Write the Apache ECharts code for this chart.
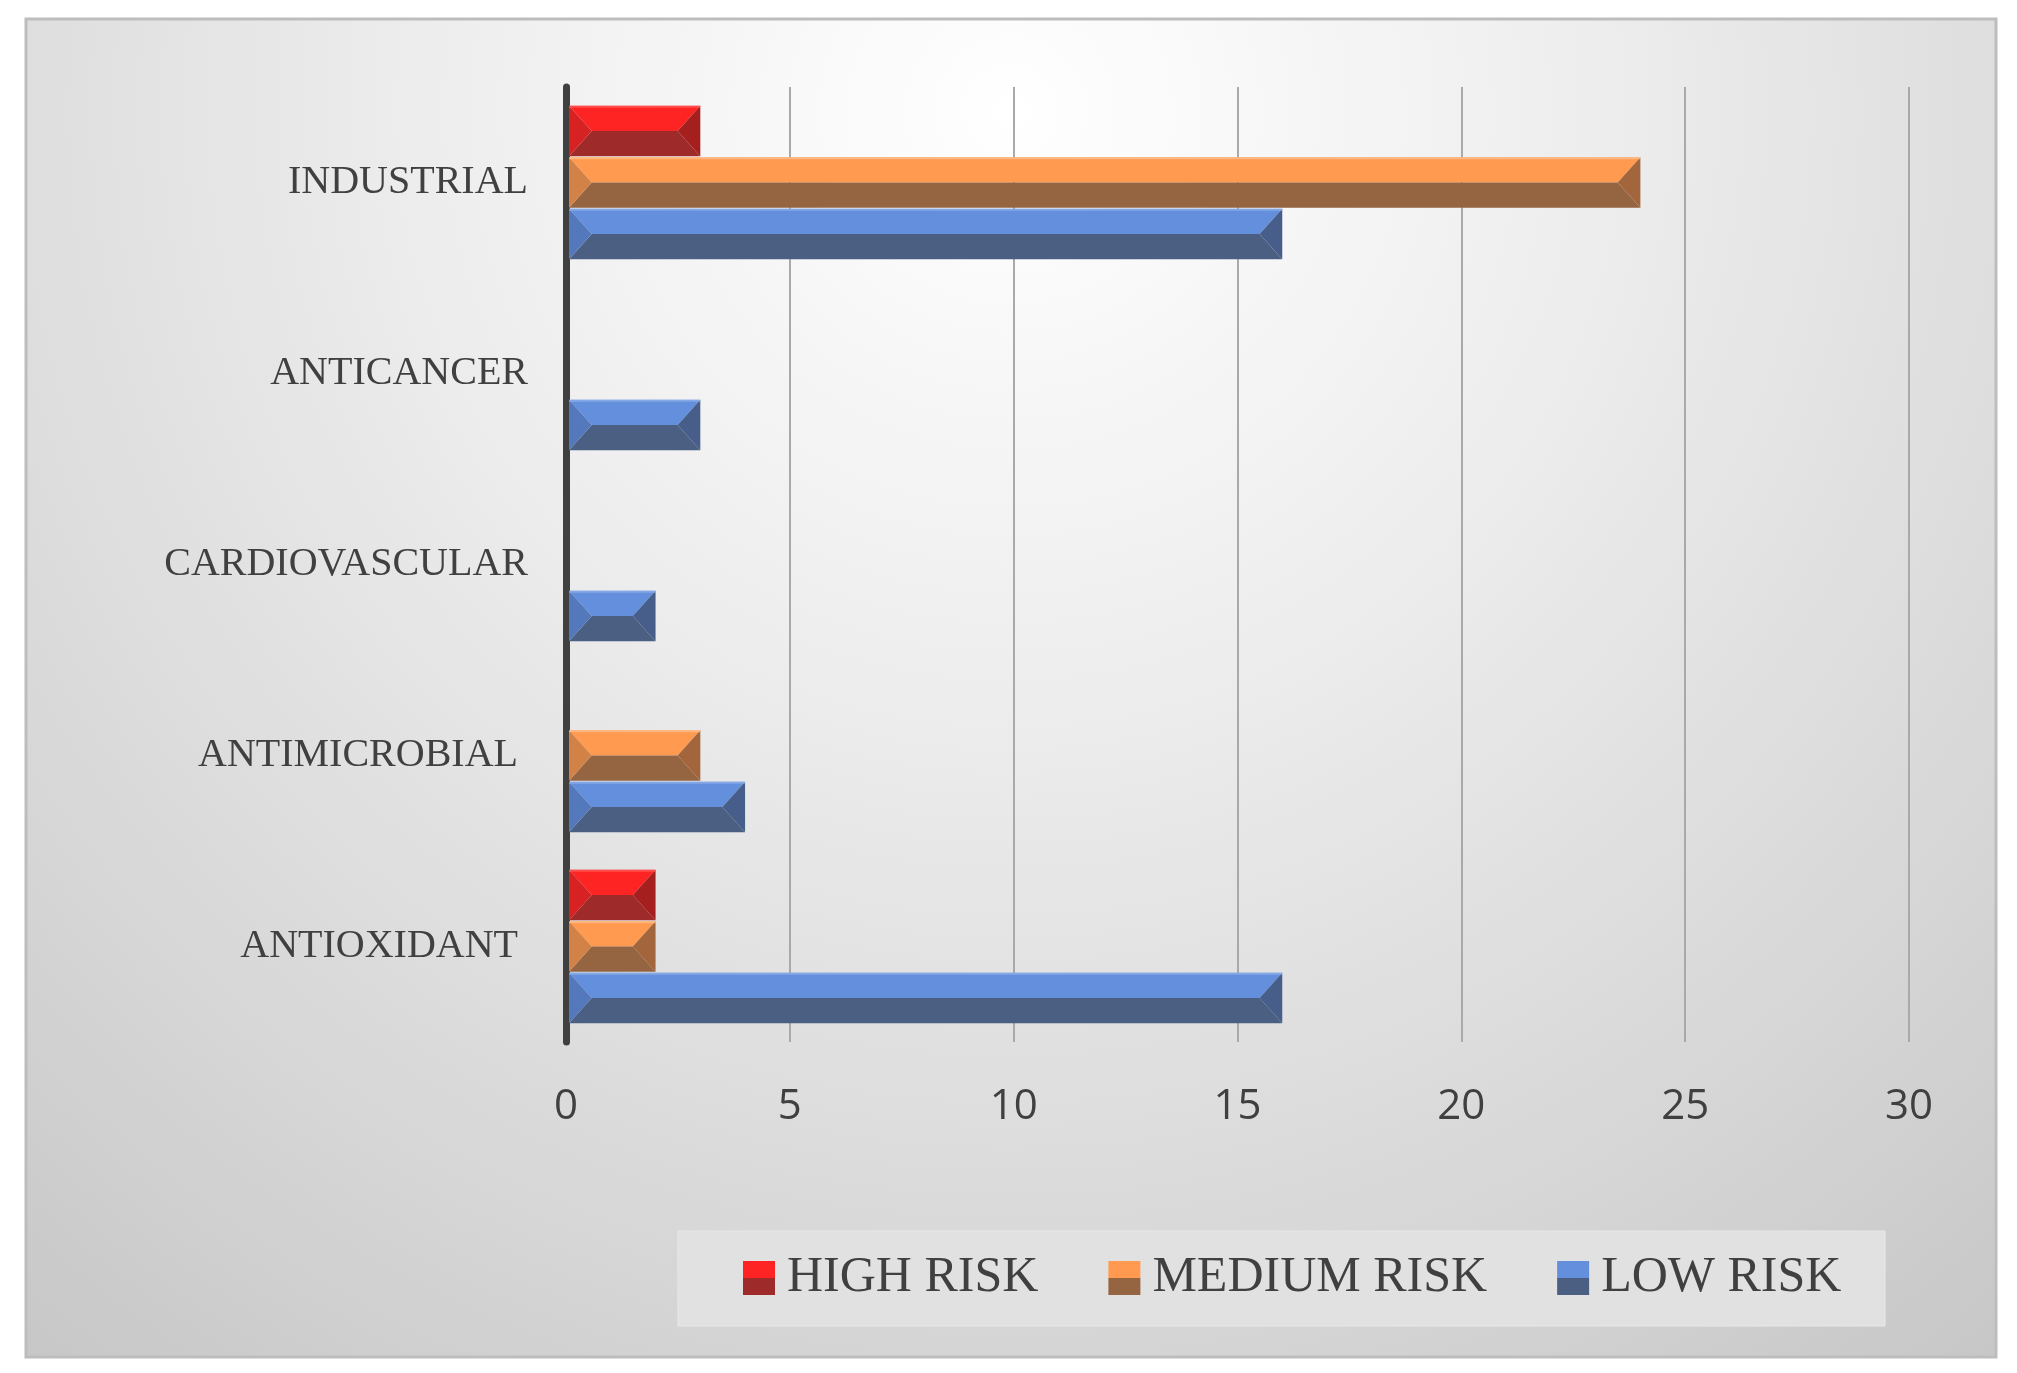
<!DOCTYPE html>
<html>
<head>
<meta charset="utf-8">
<script src="https://cdn.jsdelivr.net/npm/echarts@6/dist/echarts.min.js"></script>
<style>
html,body{margin:0;padding:0;background:#ffffff;}
#chart{width:2017px;height:1373px;}
</style>
</head>
<body>
<div id="chart"></div>
<script>
// ---- data ----
const categories = ['ANTIOXIDANT ', 'ANTIMICROBIAL ', 'CARDIOVASCULAR', 'ANTICANCER', 'INDUSTRIAL'];
const seriesNames = ['HIGH RISK', 'MEDIUM RISK', 'LOW RISK'];
const highRisk = [2, 0, 0, 0, 3];
const mediumRisk = [2, 3, 0, 0, 24];
const lowRisk = [16, 4, 2, 3, 16];
const xMin = 0, xMax = 30, xInterval = 5;

// ---- styles ----
const palettes = [
  {top:'#FF2424', bottom:'#9E2A2A', left:'#D62222', right:'#A51F1F', edge:'#FF6060'},
  {top:'#FF9A50', bottom:'#956542', left:'#D38247', right:'#A3653C', edge:'#FFC090'},
  {top:'#638FDD', bottom:'#4A5F82', left:'#5478BC', right:'#475E8A', edge:'#93B0E8'}
];
const BAR_FRACTION = 0.27;

function gradientOf(p){
  return new echarts.graphic.LinearGradient(0,0,0,1,[
    {offset:0, color:p.top},{offset:0.5, color:p.top},
    {offset:0.5, color:p.bottom},{offset:1, color:p.bottom}
  ]);
}

function makeRender(slot, p){
  return function(params, api){
    const v = api.value(0);
    const c = api.value(1);
    if (!v) return null;
    const p0 = api.coord([0, c]);
    const p1 = api.coord([v, c]);
    const band = api.size([0, 1])[1];
    const h = band * BAR_FRACTION;
    const top = p0[1] - 1.5 * h + slot * h + 0.5;
    const bot = top + h - 1;
    const mid = (top + bot) / 2;
    const x0 = p0[0] + 3, x1 = p1[0];
    const b = Math.min(h * 0.44, (x1 - x0) / 2);
    return {type:'group', children:[
      {type:'polygon', shape:{points:[[x0,top],[x1,top],[x1-b,mid],[x0+b,mid]]}, style:{fill:p.top}},
      {type:'polygon', shape:{points:[[x0+b,mid],[x1-b,mid],[x1,bot],[x0,bot]]}, style:{fill:p.bottom}},
      {type:'polygon', shape:{points:[[x0,top],[x0+b,mid],[x0,bot]]}, style:{fill:p.left}},
      {type:'polygon', shape:{points:[[x1,top],[x1,bot],[x1-b,mid]]}, style:{fill:p.right}},
      {type:'rect', shape:{x:x0, y:top, width:x1-x0, height:2}, style:{fill:p.edge, opacity:0.7}}
    ]};
  };
}

const dataSets = [highRisk, mediumRisk, lowRisk];
const series = dataSets.map((arr, k) => ({
  name: seriesNames[k],
  type: 'custom',
  renderItem: makeRender(k, palettes[k]),
  itemStyle: {color: gradientOf(palettes[k])},
  encode: {x: 0, y: 1},
  data: arr.map((v, i) => [v, i]),
  z: 3
}));

const chart = echarts.init(document.getElementById('chart'), null, {renderer:'canvas'});
chart.setOption({
  animation: false,
  backgroundColor: '#ffffff',
  graphic: [
    {type:'rect', z:-10, silent:true,
      shape:{x:26, y:19, width:1970, height:1338},
      style:{
        fill: new echarts.graphic.RadialGradient(0.5, 0.07, 1.2, [
          {offset:0, color:'#FFFFFF'},
          {offset:0.35, color:'#EEEEEE'},
          {offset:0.75, color:'#D6D6D6'},
          {offset:1, color:'#C6C6C6'}
        ]),
        stroke:'#BDBDBD', lineWidth:3
      }},
    {type:'rect', z:-5, silent:true,
      shape:{x:678, y:1231, width:1207, height:95},
      style:{fill:'#E1E1E1', stroke:'#E8E8E8', lineWidth:1}}
  ],
  grid: {left:566, right:108, top:87, bottom:331, containLabel:false},
  legend: {
    data: seriesNames.map((n, k) => ({name:n, icon:'rect', itemStyle:{color:gradientOf(palettes[k])}})),
    left: 743, top: 1253,
    itemWidth: 32, itemHeight: 34, itemGap: 70,
    padding: 0,
    textStyle: {fontFamily:'Liberation Serif', fontSize:50, color:'#404040', padding:[0,0,0,7]}
  },
  xAxis: {
    type:'value', min:xMin, max:xMax, interval:xInterval,
    axisLine:{show:false}, axisTick:{show:false},
    splitLine:{show:true, lineStyle:{color:'#A9A9A9', width:2}},
    axisLabel:{fontFamily:"'Open Sans',sans-serif", fontSize:42, color:'#404040', margin:44}
  },
  yAxis: {
    type:'category', data:categories,
    axisLine:{show:true, lineStyle:{color:'#404040', width:7}},
    axisTick:{show:false},
    splitLine:{show:false},
    axisLabel:{fontFamily:'Liberation Serif', fontSize:40, color:'#404040', margin:38}
  },
  series: series
});
</script>
</body>
</html>
